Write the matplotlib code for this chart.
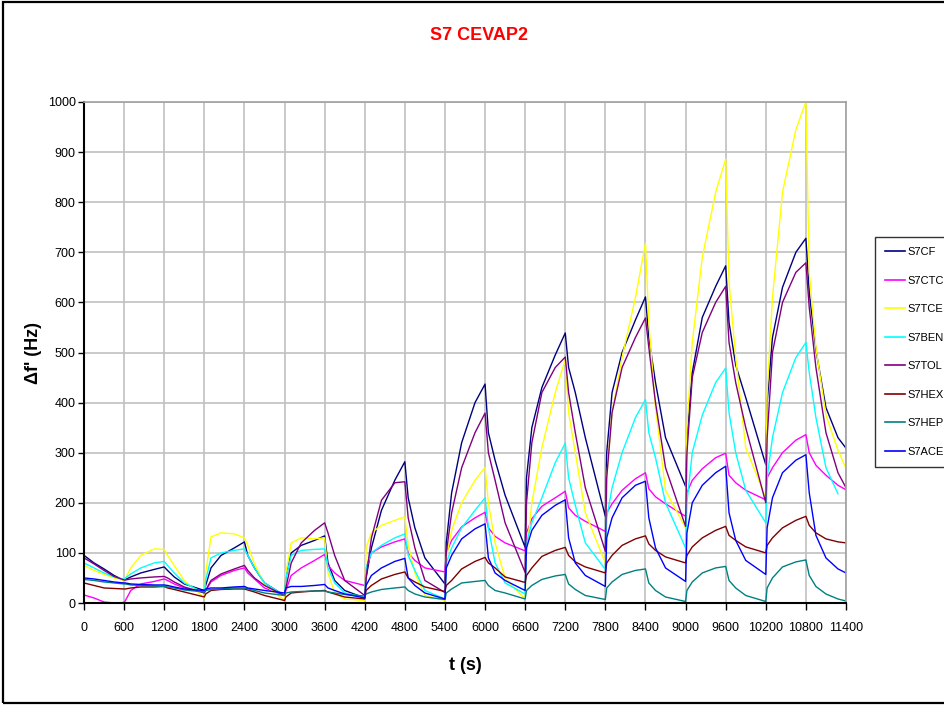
import numpy as np
import matplotlib
matplotlib.use("Agg")
import matplotlib.pyplot as plt
from matplotlib.patches import Rectangle
from matplotlib import font_manager

# ---------------- data ----------------
TIME = [0, 150, 300, 450,
        600, 620, 700, 850, 1050, 1200, 1250, 1350, 1500,
        1800, 1820, 1900, 2050, 2250, 2400, 2450, 2550, 2700,
        3000, 3020, 3100, 3250, 3450, 3600, 3650, 3750, 3900,
        4200, 4220, 4300, 4450, 4650, 4800, 4850, 4950, 5100,
        5400, 5420, 5500, 5650, 5850, 6000, 6050, 6150, 6300,
        6600, 6620, 6700, 6850, 7050, 7200, 7250, 7350, 7500,
        7800, 7820, 7900, 8050, 8250, 8400, 8450, 8550, 8700,
        9000, 9020, 9100, 9250, 9450, 9600, 9650, 9750, 9900,
        10200, 10220, 10300, 10450, 10650, 10800, 10850, 10950, 11100,
        11280, 11400]

S7CF = [95, 80, 68, 55,
        45, 47, 52, 60, 67, 72, 65, 52, 38,
        25, 35, 70, 95, 110, 122, 95, 70, 40,
        15, 50, 100, 115, 125, 134, 80, 45, 25,
        10, 50, 110, 185, 245, 282, 210, 150, 90,
        38, 120, 220, 320, 400, 437, 340, 285, 215,
        111, 250, 350, 430, 495, 539, 470, 420, 330,
        173, 300, 420, 500, 565, 611, 530, 440, 330,
        233, 330, 460, 570, 632, 673, 560, 475, 410,
        276, 400, 530, 630, 700, 728, 620, 505, 390,
        330, 309]

S7CTC = [16, 10, 2, 0,
         1, 5, 25, 38, 43, 48, 45, 38, 30,
         22, 25, 42, 55, 65, 70, 60, 48, 30,
         15, 25, 55, 70, 85, 97, 75, 60, 45,
         35, 70, 100, 112, 122, 128, 100, 85, 70,
         62, 100, 125, 152, 170, 181, 150, 133, 120,
         104, 140, 168, 193, 210, 223, 190, 175, 163,
         143, 180, 198, 225, 248, 260, 228, 212, 198,
         173, 220, 245, 268, 290, 299, 255, 240, 225,
         206, 250, 270, 300, 325, 336, 300, 275, 255,
         235, 226]

S7TCE = [75, 65, 57, 50,
         45, 50, 70, 95, 108, 107, 95, 75, 45,
         10, 60, 132, 140, 138, 130, 115, 78, 37,
         5, 60, 120, 130, 128, 130, 60, 20, 8,
         5, 110, 140, 155, 165, 172, 115, 60, 15,
         5, 90, 145, 200, 245, 271, 200, 120, 50,
         8, 100, 200, 310, 420, 486, 380, 300, 180,
         80, 250, 380, 490, 610, 718, 560, 390, 225,
         150, 350, 520, 690, 820, 886, 640, 490, 310,
         210, 420, 610, 820, 945, 1000, 660, 510, 375,
         305, 269]

S7BEN = [80, 70, 60, 52,
         47, 50, 58, 70, 80, 83, 75, 60, 40,
         20, 45, 90, 100, 105, 108, 95, 70, 40,
         15, 50, 95, 105, 107, 108, 70, 40, 20,
         12, 70, 100, 115, 130, 138, 95, 65, 25,
         8, 80, 110, 150, 185, 210, 150, 80, 40,
         18, 120, 160, 210, 280, 319, 250, 195, 120,
         67, 170, 230, 300, 370, 406, 340, 290, 200,
         110, 200, 300, 375, 440, 469, 380, 300, 225,
         160, 250, 330, 420, 490, 520, 460, 370, 270,
         218, np.nan]

S7TOL = [90, 78, 65, 53,
         46, 46, 48, 50, 52, 53, 50, 42, 32,
         20, 25, 45, 58, 68, 75, 65, 50, 35,
         15, 30, 80, 120, 145, 160, 140, 95, 45,
         15, 50, 130, 205, 240, 242, 170, 110, 45,
         21, 100, 180, 270, 340, 379, 300, 245, 160,
         61, 200, 320, 420, 470, 491, 420, 340, 230,
         103, 250, 380, 470, 530, 569, 510, 400, 270,
         153, 300, 450, 540, 600, 632, 520, 440, 350,
         200, 330, 500, 600, 660, 679, 590, 470, 340,
         260, 230]

S7HEX = [40, 35, 30, 29,
         28, 28, 30, 32, 32, 33, 30, 27, 22,
         12, 18, 25, 27, 28, 28, 26, 22, 15,
         5, 12, 20, 22, 24, 25, 22, 18, 12,
         8, 25, 35, 48, 57, 62, 50, 42, 32,
         23, 35, 45, 68, 83, 91, 80, 70, 52,
         41, 55, 70, 93, 105, 111, 95, 82, 72,
         60, 80, 95, 115, 128, 134, 118, 105, 92,
         80, 95, 112, 130, 145, 153, 135, 125, 112,
         100, 115, 130, 150, 165, 173, 155, 140, 128,
         122, 120]

S7HEP = [47, 45, 42, 40,
         38, 38, 36, 35, 34, 33, 32, 30, 26,
         22, 25, 27, 28, 30, 30, 28, 25, 20,
         15, 20, 22, 23, 24, 24, 22, 20, 17,
         14, 18, 22, 27, 30, 32, 25, 18, 12,
         7, 20, 28, 40, 43, 45, 35, 25, 20,
         8, 25, 35, 47, 54, 57, 38, 27, 15,
         7, 30, 42, 57, 65, 68, 40, 25, 12,
         3, 25, 42, 60, 70, 73, 45, 30, 15,
         3, 30, 50, 72, 82, 86, 55, 33, 18,
         8, 4]

S7ACE = [50, 48, 45, 42,
         40, 40, 38, 37, 36, 36, 35, 32, 28,
         25, 28, 30, 30, 32, 33, 30, 28, 25,
         20, 30, 33, 33, 35, 37, 30, 25, 18,
         10, 35, 55, 70, 83, 89, 50, 35, 20,
         8, 70, 95, 128, 148, 158, 90, 60, 45,
         25, 110, 145, 175, 195, 206, 130, 80, 55,
         33, 130, 170, 210, 235, 243, 170, 110, 70,
         43, 140, 200, 235, 260, 273, 180, 125, 85,
         57, 150, 210, 260, 285, 296, 220, 135, 90,
         68, 60]

SERIES_NAMES = ["S7CF", "S7CTC", "S7TCE", "S7BEN", "S7TOL", "S7HEX", "S7HEP", "S7ACE"]
SERIES_VALUES = [S7CF, S7CTC, S7TCE, S7BEN, S7TOL, S7HEX, S7HEP, S7ACE]
COLORS = ["#000080", "#FF00FF", "#FFFF00", "#00FFFF", "#800080", "#800000", "#008080", "#0000FF"]

X_TICKS = list(range(0, 11401, 600))
Y_TICKS = list(range(0, 1001, 100))

TITLE = "S7 CEVAP2"
XLABEL = "t (s)"
YLABEL = "Δf' (Hz)"

# ---------------- fonts ----------------
available = {f.name for f in font_manager.fontManager.ttflist}
fam = [f for f in ["Liberation Sans Narrow", "Liberation Sans", "DejaVu Sans"] if f in available]
plt.rcParams["font.family"] = fam

# ---------------- figure ----------------
W, H = 944, 706
fig = plt.figure(figsize=(W / 100, H / 100), dpi=100)
fig.patch.set_facecolor("white")

left, right, top, bottom = 84, 846, 102, 603
ax = fig.add_axes([left / W, 1 - bottom / H, (right - left) / W, (bottom - top) / H])

for name, vals, col in zip(SERIES_NAMES, SERIES_VALUES, COLORS):
    ax.plot(TIME, vals, color=col, lw=1.0, label=name)

ax.set_xlim(0, 11400)
ax.set_ylim(0, 1000)
ax.set_xticks(X_TICKS)
ax.set_yticks(Y_TICKS)
ax.set_xticklabels([str(v) for v in X_TICKS], fontsize=9)
ax.set_yticklabels([str(v) for v in Y_TICKS], fontsize=9)
ax.grid(True, color="#C0C0C0", lw=1.2)
ax.set_axisbelow(True)
for s in ["top", "right"]:
    ax.spines[s].set_color("#A0A0A0")
    ax.spines[s].set_linewidth(1.2)
for s in ["left", "bottom"]:
    ax.spines[s].set_color("black")
    ax.spines[s].set_linewidth(1.5)
ax.tick_params(axis="x", direction="out", length=5, width=1, pad=9, colors="black")
ax.tick_params(axis="y", direction="out", length=4, width=1, pad=2, colors="black")

ax.set_xlabel(XLABEL, fontsize=13, fontweight="bold", labelpad=16)
ax.set_ylabel(YLABEL, fontsize=13, fontweight="bold", labelpad=4)

fig.text(479 / W, 1 - 36 / H, TITLE, color="red", fontsize=13, fontweight="bold",
         ha="center", va="center")

leg = fig.legend(loc="upper left", bbox_to_anchor=(875 / W, 1 - 237 / H),
                 fontsize=8, frameon=True, fancybox=False, edgecolor="black",
                 handlelength=1.8, handletextpad=0.25, labelspacing=1.67,
                 borderpad=0.9, borderaxespad=0)
leg.get_frame().set_linewidth(1.0)
for line in leg.get_lines():
    line.set_linewidth(1.2)

# figure border (right side runs off the canvas)
fig.patches.append(Rectangle((3 / W, 3 / H), 1.2, 1 - 5 / H, transform=fig.transFigure,
                             fill=False, edgecolor="black", lw=1.6))

fig.savefig("out.png", dpi=100)
